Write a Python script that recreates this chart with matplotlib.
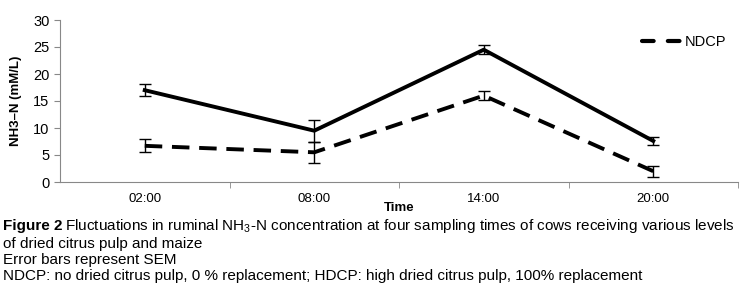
import matplotlib
matplotlib.use('Agg')
import matplotlib.pyplot as plt
from matplotlib.lines import Line2D

times = ["02:00", "08:00", "14:00", "20:00"]
hdcp = [17.0, 9.5, 24.5, 7.6]
hdcp_sem = [1.1, 2.0, 0.8, 0.8]
ndcp = [6.7, 5.5, 16.0, 2.0]
ndcp_sem = [1.2, 2.0, 0.8, 1.0]

plt.rcParams['font.family'] = ['Liberation Sans', 'DejaVu Sans']
plt.rcParams['mathtext.fontset'] = 'custom'
plt.rcParams['mathtext.rm'] = 'Liberation Sans'
plt.rcParams['mathtext.it'] = 'Liberation Sans'

fig = plt.figure(figsize=(7.43, 2.91), dpi=100)
ax = fig.add_axes([60 / 743, 1 - 182 / 291, 678 / 743, 162 / 291])

x = list(range(len(times)))
ax.errorbar(x, hdcp, yerr=hdcp_sem, color='black', lw=2.8, capsize=4.3,
            elinewidth=1, capthick=1)
ax.errorbar(x, ndcp, yerr=ndcp_sem, color='black', lw=2.8, capsize=4.3,
            elinewidth=1, capthick=1, dashes=(4.5, 2.5))

ax.set_xlim(-0.5, 3.5)
ax.set_ylim(0, 30)
ax.set_yticks([0, 5, 10, 15, 20, 25, 30])
ax.set_xticks(x)
ax.set_xticklabels(times)
ax.set_xticks([0.5, 1.5, 2.5, 3.5], minor=True)
ax.tick_params(axis='x', which='major', length=0, labelsize=9.5, pad=8)
ax.tick_params(axis='x', which='minor', length=4, color='#888888')
ax.tick_params(axis='y', labelsize=10.5, length=4, color='#888888')
for s in ['top', 'right']:
    ax.spines[s].set_visible(False)
for s in ['left', 'bottom']:
    ax.spines[s].set_color('#888888')

ax.set_ylabel("NH3\u2013N (mM/L)", fontsize=9.5, fontweight='bold', labelpad=8)
ax.set_xlabel("Time", fontsize=9.5, fontweight='bold', labelpad=-2)

# legend only lists NDCP, as in the original figure
handle = Line2D([], [], color='black', lw=3, dashes=(2.8, 3.4), dash_capstyle='round')
ax.legend([handle], ['NDCP'], loc='center left', bbox_to_anchor=(0.858, 0.864),
          frameon=False, fontsize=10.5, handlelength=2.6, handletextpad=0.35,
          borderpad=0, borderaxespad=0)

fs = 11
t0 = fig.text(0.004, 0.21, "Figure 2", fontsize=fs, fontweight='bold')
r = fig.canvas.get_renderer()
bb = t0.get_window_extent(renderer=r)
fig.text(bb.x1 / fig.bbox.width + 0.004, 0.21,
         "Fluctuations in ruminal NH$_3$-N concentration at four sampling times of cows receiving various levels",
         fontsize=fs)
fig.text(0.004, 0.148, "of dried citrus pulp and maize", fontsize=fs)
fig.text(0.004, 0.093, "Error bars represent SEM", fontsize=fs)
fig.text(0.004, 0.038, "NDCP: no dried citrus pulp, 0 % replacement; HDCP: high dried citrus pulp, 100% replacement", fontsize=fs)

fig.savefig("out.png", dpi=100)
